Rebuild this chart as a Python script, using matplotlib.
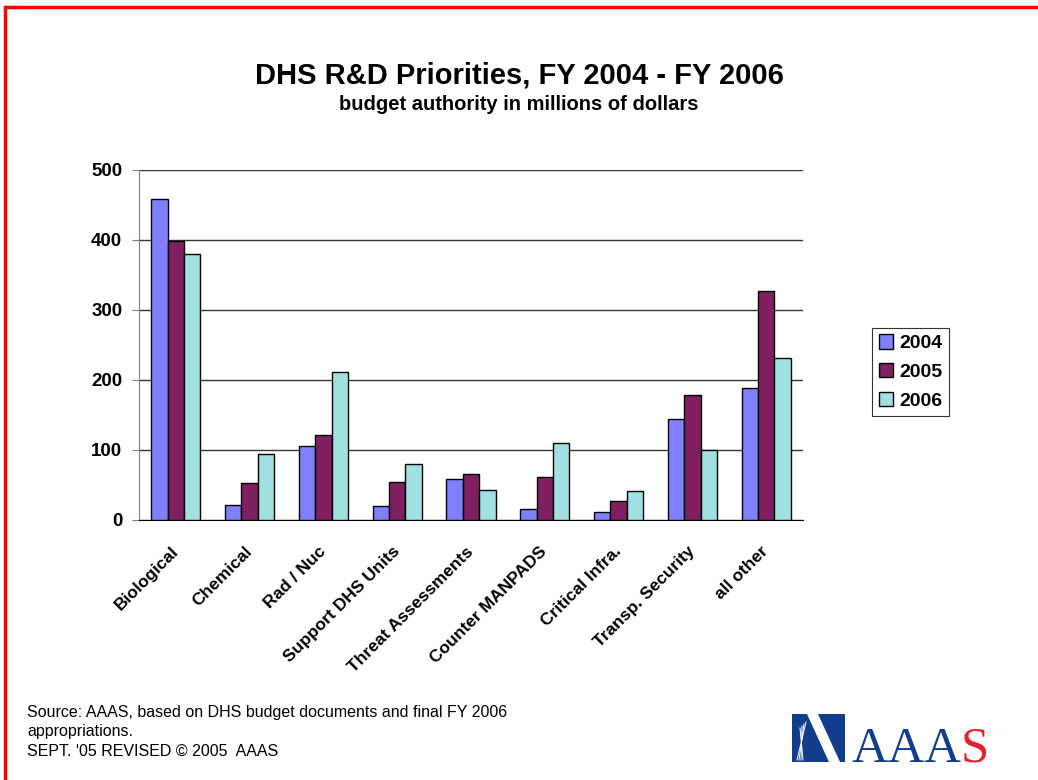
import numpy as np
import matplotlib
matplotlib.use("Agg")
import matplotlib.pyplot as plt
from matplotlib.patches import Rectangle, Polygon

categories = ["Biological", "Chemical", "Rad / Nuc", "Support DHS Units",
              "Threat Assessments", "Counter MANPADS", "Critical Infra.",
              "Transp. Security", "all other"]
fy2004 = [459, 22, 106, 20, 59, 16, 12, 145, 188]
fy2005 = [398, 53, 122, 54, 66, 61, 27, 178, 327]
fy2006 = [380, 95, 212, 80, 43, 110, 41, 100, 232]
years = ["2004", "2005", "2006"]
colors = ["#8080FF", "#802060", "#A0E0E0"]

plt.rcParams['font.family'] = ['Liberation Sans', 'DejaVu Sans']

fig = plt.figure(figsize=(10.38, 7.8), dpi=100)
ax = fig.add_axes([139/1038, 260/780, 664/1038, 350/780])

x = np.arange(len(categories))
w = 0.222
for i, vals in enumerate([fy2004, fy2005, fy2006]):
    ax.bar(x + (i - 1)*w, vals, w, color=colors[i], edgecolor='black',
           linewidth=1.0, label=years[i], zorder=3)

ax.set_xlim(-0.5, len(categories) - 0.5)
ax.set_ylim(0, 500)
ax.set_yticks(range(0, 501, 100))
ax.yaxis.grid(True, color='#333333', linewidth=1.0, zorder=0)
ax.set_axisbelow(True)
for s in ['top', 'right']:
    ax.spines[s].set_visible(False)
ax.spines['left'].set_color('#808080')
ax.spines['bottom'].set_color('black')
ax.tick_params(axis='y', length=5, color='#808080', pad=7, labelsize=13.5)
ax.tick_params(axis='x', length=0, pad=21)
for lab in ax.get_yticklabels():
    lab.set_fontweight('bold')
ax.set_xticks(x)
ax.set_xticklabels(categories, rotation=45, ha='right', va='center',
                   rotation_mode='anchor', fontsize=12.5, fontweight='bold')

leg = ax.legend(loc='center left', bbox_to_anchor=(872/1038, 1 - 372/780),
                bbox_transform=fig.transFigure, frameon=True, fancybox=False,
                prop={'weight': 'bold', 'size': 14}, handlelength=0.75,
                handleheight=0.75, handletextpad=0.3, borderpad=0.35,
                labelspacing=0.55, borderaxespad=0)
leg.get_frame().set_edgecolor('black')
leg.get_frame().set_linewidth(0.8)

fig.text(0.5, 1 - 76/780, "DHS R&D Priorities, FY 2004 - FY 2006",
         ha='center', va='center', fontsize=21, fontweight='bold')
fig.text(0.5, 1 - 105/780, "budget authority in millions of dollars",
         ha='center', va='center', fontsize=14.5, fontweight='bold')

fig.text(27/1038, 1 - 705/780,
         "Source: AAAS, based on DHS budget documents and final FY 2006\n"
         "appropriations.\nSEPT. '05 REVISED \u00a9 2005  AAAS",
         ha='left', va='top', fontsize=11.5, linespacing=1.36)

# red slide border
fig.patches.append(Rectangle((5/1038, -0.05), 1.1, 1 - 7/780 + 0.05,
                             transform=fig.transFigure, fill=False,
                             edgecolor='#FF0000', linewidth=2.5))

# AAAS logo
blue = '#123C8C'
fig.patches.append(Polygon([(792/1038, 1 - 714/780), (845/1038, 1 - 714/780),
                            (845/1038, 1 - 762/780), (792/1038, 1 - 762/780)],
                           closed=True, transform=fig.transFigure,
                           facecolor=blue, edgecolor='none'))
fig.patches.append(Polygon([(807/1038, 1 - 714/780), (818/1038, 1 - 714/780),
                            (840/1038, 1 - 762/780), (829/1038, 1 - 762/780)],
                           closed=True, transform=fig.transFigure,
                           facecolor='white', edgecolor='none'))
for k in range(4):
    fig.lines.append(plt.Line2D([(806 - 2*k)/1038, (797 + 2*k)/1038],
                                [1 - (722 + 2*k)/780, 1 - 760/780],
                                transform=fig.transFigure, color='white',
                                linewidth=0.7))
fig.text(851/1038, 1 - 762/780, "AAA", ha='left', va='baseline',
         fontsize=36.5, family='Liberation Serif', color=blue)
fig.text(961/1038, 1 - 762/780, "S", ha='left', va='baseline',
         fontsize=36.5, family='Liberation Serif', color='#E8202A')

fig.savefig("out.png", dpi=100)
